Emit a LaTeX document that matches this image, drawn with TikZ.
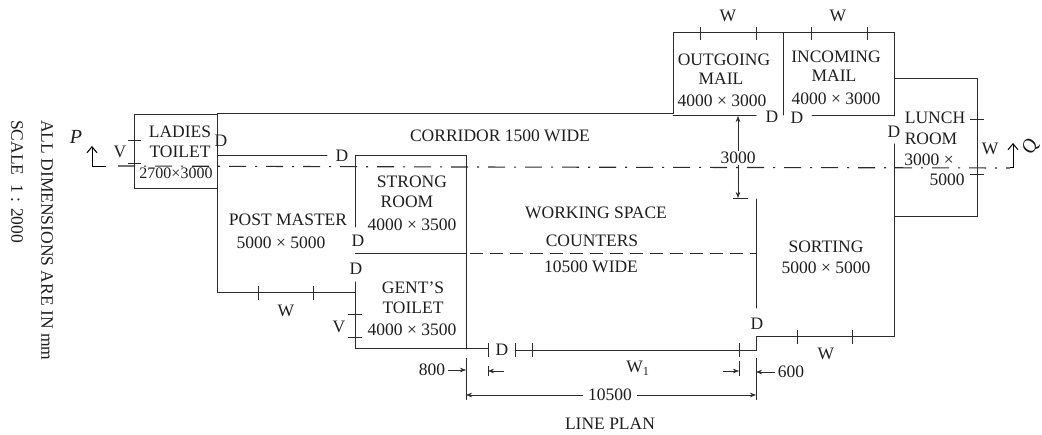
\documentclass[tikz,border=0pt]{standalone}
\usepackage{xcolor}
\usepackage{fontspec}
\usetikzlibrary{arrows.meta}
\setmainfont{Liberation Serif}
\definecolor{inkline}{HTML}{2B2B2B}
\definecolor{inktext}{HTML}{1E1E1E}
\tikzset{
  wall/.style={draw=inkline, line width=1pt, line cap=round},
  thin wall/.style={draw=inkline, line width=0.8pt},
  tickmark/.style={draw=inkline, line width=0.8pt},
  dimline/.style={draw=inkline, line width=0.5pt, >={Stealth[length=6pt,width=4.5pt]}},
  counterline/.style={draw=inkline, line width=0.9pt, dash pattern=on 13pt off 7pt},
  cutline/.style={draw=inkline, line width=1.1pt, dash pattern=on 17pt off 9pt on 2pt off 9pt},
  handline/.style={draw=black, line width=1pt, ->, >={Straight Barb[length=6pt,width=10pt]}},
  lbl/.style={text=inktext, inner sep=0pt, font=\fontsize{17.5}{20}\selectfont}
}
\begin{document}
\begin{tikzpicture}[x=1pt, y=-1pt]
  \useasboundingbox (0,0) rectangle (1042,435);

  % outer walls
  \draw[thin wall] (134,114) rectangle (217,188);
  \draw[wall] (217,127) -- (217,114) -- (673,114) -- (673,33) -- (894,33) -- (894,116);
  \draw[wall] (673,116) -- (756,116) (812,116) -- (894,116);
  \draw[wall] (783,33) -- (783,115);
  \draw[thin wall] (894,78) -- (977,78) -- (977,216) -- (894,216);
  \draw[wall] (894,144) -- (894,337) -- (756,337) -- (756,351) -- (515,351);
  \draw[wall] (756,199) -- (756,308);
  \draw[wall] (327,156) -- (217,156) -- (217,293) -- (355,293);
  \draw[wall] (355,227) -- (355,156) -- (466,156) -- (466,349);
  \draw[wall] (355,282) -- (355,349) -- (488,349);

  % counters and section
  \draw[thin wall] (355,253) -- (466,253);
  \draw[counterline] (470,253) -- (756,253);
  \draw[cutline] (118,166) -- (466,167) -- (1010,168);

  % windows, doors
  \foreach \x in {700,756,811,867} \draw[tickmark] (\x,27) -- (\x,40);
  \foreach \x in {258,313} \draw[tickmark] (\x,286) -- (\x,300);
  \foreach \x in {797,852} \draw[tickmark] (\x,330) -- (\x,344);
  \foreach \y in {140,163} \draw[tickmark] (128,\y) -- (141,\y);
  \foreach \y in {314,337} \draw[tickmark] (348,\y) -- (362,\y);
  \foreach \y in {119,174} \draw[tickmark] (970,\y) -- (984,\y);
  \foreach \x in {488,515,532,739} \draw[tickmark] (\x,343) -- (\x,357);

  % dimensions
  \coordinate (topref) at (738,116);
  \coordinate (lowref) at (738,198);
  \node[lbl, fill=white, inner sep=1pt] (dimthree) at (738,158) {3000};
  \draw[dimline, ->] (dimthree) -- (topref);
  \draw[dimline, ->] (dimthree) -- (lowref);
  \draw[tickmark] (733,198) -- (748,198);
  \draw[dimline] (466,358) -- (466,400) (756,358) -- (756,400) (488,366) -- (488,376) (739,361) -- (739,376);
  \node[lbl, inner sep=3pt] (dimeight) at (432,370) {800};
  \node[lbl, inner sep=3pt] (dimsix) at (791,372) {600};
  \node[lbl, inner sep=5pt] (dimlong) at (610,395) {10500};
  \coordinate (eightref) at (466,370);
  \coordinate (sixref) at (756,372);
  \draw[dimline, ->] (dimeight) -- (eightref);
  \draw[dimline, ->] (dimsix) -- (sixref);
  \draw[dimline, ->] (504,371) -- (488,371);
  \draw[dimline, ->] (723,371) -- (739,371);
  \coordinate (longleft) at (466,395);
  \coordinate (longright) at (756,395);
  \draw[dimline, ->] (dimlong) -- (longleft);
  \draw[dimline, ->] (dimlong) -- (longright);

  % section arrows
  \draw[handline] (106,167) -- (92,167) -- (92,146);
  \draw[handline] (1010,168) -- (1013,168) -- (1013,143);
  \node[lbl, font=\fontsize{20}{22}\itshape] (secp) at (76,137) {P};
  \node[lbl, rotate=70, font=\fontsize{20}{22}\itshape] (secq) at (1031,147) {Q};

  % rooms
  \node[lbl] (ladiesa) at (180,132) {LADIES};
  \node[lbl] (ladiesb) at (180,152) {TOILET};
  \node[lbl, font=\fontsize{16}{18}\selectfont] (ladiesc) at (176,173) {2700×3000};
  \node[lbl] (corridor) at (500,136) {CORRIDOR 1500 WIDE};
  \node[lbl] (mastera) at (288,220) {POST MASTER};
  \node[lbl] (masterb) at (281,243) {5000 × 5000};
  \node[lbl] (stronga) at (412,182) {STRONG};
  \node[lbl] (strongb) at (407,202) {ROOM};
  \node[lbl] (strongc) at (412,225) {4000 × 3500};
  \node[lbl] (gentsa) at (413,288) {GENT'S};
  \node[lbl] (gentsb) at (413,308) {TOILET};
  \node[lbl] (gentsc) at (412,330) {4000 × 3500};
  \node[lbl] (worka) at (596,213) {WORKING SPACE};
  \node[lbl] (workb) at (592,241) {COUNTERS};
  \node[lbl] (workc) at (591,267) {10500 WIDE};
  \node[lbl] (outa) at (724,60) {OUTGOING};
  \node[lbl] (outb) at (721,79) {MAIL};
  \node[lbl] (outc) at (722,101) {4000 × 3000};
  \node[lbl] (ina) at (836,57) {INCOMING};
  \node[lbl] (inb) at (834,76) {MAIL};
  \node[lbl] (inc) at (836,99) {4000 × 3000};
  \node[lbl] (luncha) at (935,118) {LUNCH};
  \node[lbl] (lunchb) at (931,139) {ROOM};
  \node[lbl] (lunchc) at (929,160) {3000 ×};
  \node[lbl] (lunchd) at (947,180) {5000};
  \node[lbl] (sorta) at (826,247) {SORTING};
  \node[lbl] (sortb) at (826,268) {5000 × 5000};
  \node[lbl] (lineplan) at (610,424) {LINE PLAN};

  % door and window letters
  \foreach \x/\y/\t in {221/141/D, 342/156/D, 358/241/D, 356/269/D, 502/350/D, 757/324/D, 772/117/D, 797/118/D, 894/132/D,
                        120/152/V, 339/327/V, 286/311/W, 728/16/W, 838/16/W, 826/354/W, 990/149/W}
    \node[lbl] at (\x,\y) {\t};
  \node[lbl] (wone) at (638,368) {W\textsubscript{1}};

  % notes
  \node[lbl, rotate=-90, anchor=west] (notea) at (47,120) {ALL DIMENSIONS ARE IN mm};
  \node[lbl, rotate=-90, anchor=west] (noteb) at (17,120) {SCALE\ \ 1 : 2000};
\end{tikzpicture}
\end{document}
